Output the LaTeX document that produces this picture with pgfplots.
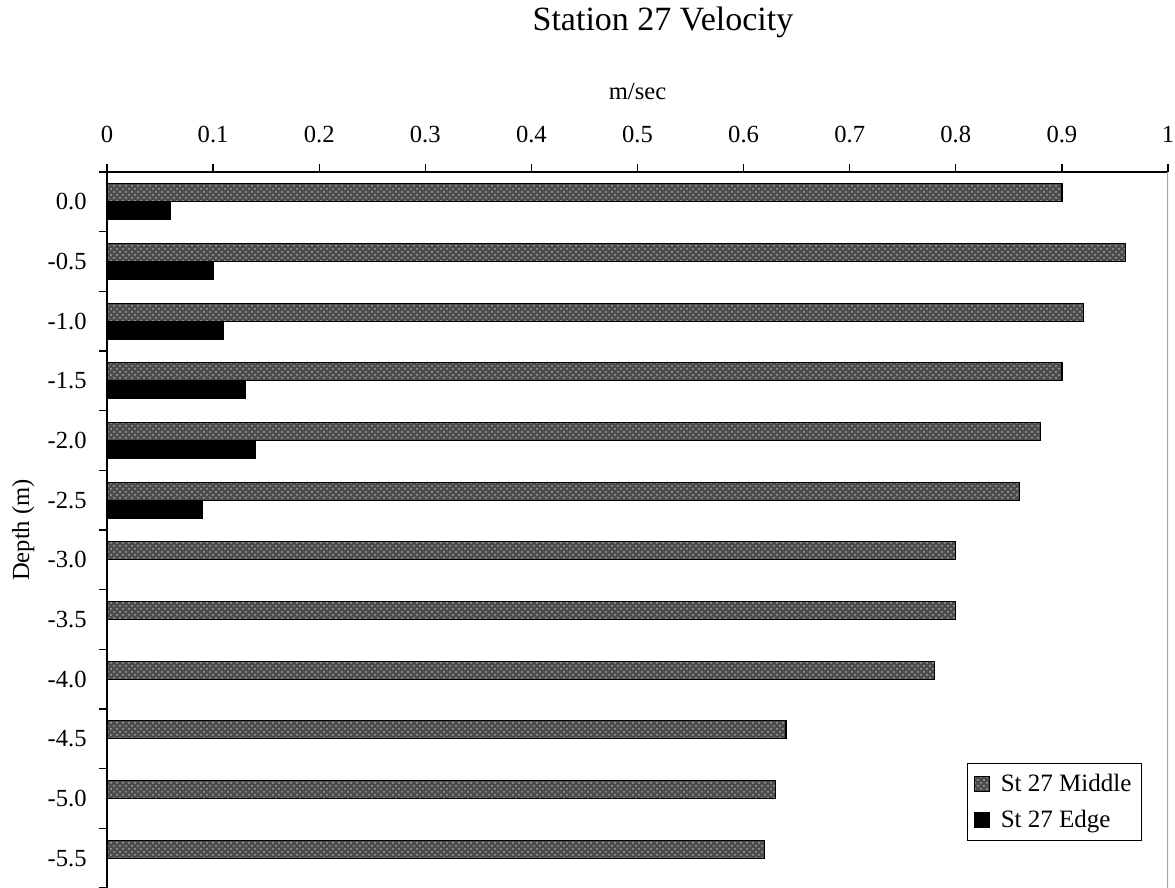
\documentclass[border=0pt]{standalone}
\usepackage{pgfplots}
\pgfplotsset{compat=1.18}
\usepackage{fontspec}
\setmainfont{Liberation Serif}
\usetikzlibrary{patterns}

\begin{document}
\begin{tikzpicture}
\begin{axis}[
  at={(0pt,0pt)}, anchor=south west,
  scale only axis, width=530.5pt, height=358pt,
  xbar, bar width=9pt,
  xmin=0, xmax=1, ymin=-11.5, ymax=0.5,
  enlargelimits=false,
  axis x line*=top, axis y line*=left,
  axis line style={black, line width=0.6pt},
  /pgf/number format/assume math mode=true,
  xtick={0,0.1,0.2,0.3,0.4,0.5,0.6,0.7,0.8,0.9,1},
  xticklabels={0,0.1,0.2,0.3,0.4,0.5,0.6,0.7,0.8,0.9,1},
  tick align=outside, major tick length=4pt, minor tick length=4pt,
  ytick={0,-1,-2,-3,-4,-5,-6,-7,-8,-9,-10,-11},
  yticklabels={0.0,-0.5,-1.0,-1.5,-2.0,-2.5,-3.0,-3.5,-4.0,-4.5,-5.0,-5.5},
  minor ytick={0.5,-0.5,-1.5,-2.5,-3.5,-4.5,-5.5,-6.5,-7.5,-8.5,-9.5,-10.5,-11.5},
  tick style={black, line width=0.6pt},
  every major y tick/.append style={draw=none},
  tick label style={font=\fontsize{12.3}{14}\selectfont},
  xticklabel style={anchor=base, yshift=10.5pt},
  yticklabel style={anchor=east, inner sep=0pt, xshift=-6pt},
  title={Station 27 Velocity},
  every axis title/.style={at={(axis description cs:0.524,1.1983)}, anchor=base, font=\fontsize{17}{20}\selectfont},
  xlabel={m/sec},
  xlabel style={at={(axis description cs:0.5,1.1006)}, anchor=base, font=\fontsize{12.3}{14}\selectfont},
  ylabel={Depth (m)},
  ylabel style={at={(axis description cs:-0.0735,0.5)}, anchor=base, font=\fontsize{12.3}{14}\selectfont},
  legend style={at={(axis description cs:0.9755,0.0656)}, anchor=south east, draw=black, line width=0.6pt,
    font=\fontsize{12.5}{14}\selectfont, inner xsep=3pt, inner ysep=3pt, row sep=4pt,
    cells={anchor=west}},
  legend image code/.code={\draw[#1, line width=0.4pt] (0pt,-3.75pt) rectangle (7.5pt,3.75pt); \path (11pt,0pt);},
]
\addplot[draw=black, line width=0.6pt, fill=black!70,
  postaction={pattern=crosshatch dots, pattern color=white!65!black}, bar shift=4.5pt]
  coordinates {(0.90,0) (0.96,-1) (0.92,-2) (0.90,-3) (0.88,-4) (0.86,-5)
               (0.80,-6) (0.80,-7) (0.78,-8) (0.64,-9) (0.63,-10) (0.62,-11)};
\addlegendentry{St 27 Middle}
\addplot[draw=black, line width=0.6pt, fill=black, bar shift=-4.5pt]
  coordinates {(0.06,0) (0.10,-1) (0.11,-2) (0.13,-3) (0.14,-4) (0.09,-5)};
\addlegendentry{St 27 Edge}
\draw[gray!70, line width=0.6pt] (rel axis cs:1,0) -- (rel axis cs:1,1);
\end{axis}
\pgfresetboundingbox
\path (-53.5pt,0pt) rectangle (534pt,444pt);
\end{tikzpicture}
\end{document}
